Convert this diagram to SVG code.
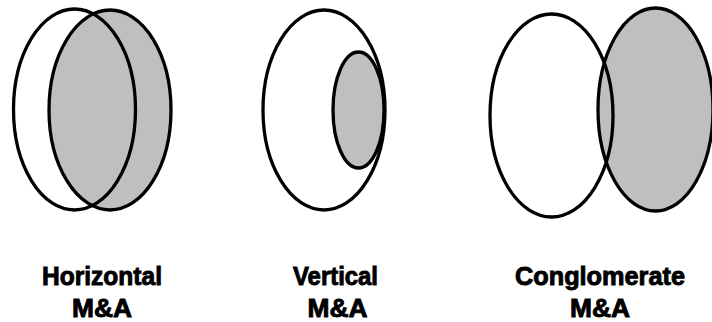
<svg xmlns="http://www.w3.org/2000/svg" width="712" height="322" viewBox="0 0 712 322">
<style>
.o{fill:none;stroke:#000;stroke-width:3.3}
.g{fill:#bfbfbf;stroke:#000;stroke-width:3.3}
.t{font-family:"Liberation Sans",Arial,sans-serif;font-weight:bold;font-size:25px;fill:#000;stroke:#000;stroke-width:0.9;text-anchor:middle}
</style>
<rect width="712" height="322" fill="#fff"/>
<g id="horizontal">
<ellipse class="g" cx="110" cy="110" rx="61" ry="100"/>
<ellipse class="o" cx="74.5" cy="109.5" rx="61" ry="100.5"/>
<text class="t" x="102" y="285" textLength="120" lengthAdjust="spacingAndGlyphs">Horizontal</text>
<text class="t" x="102" y="317" textLength="60" lengthAdjust="spacingAndGlyphs">M&amp;A</text>
</g>
<g id="vertical">
<ellipse class="o" cx="324" cy="110" rx="61" ry="100"/>
<ellipse class="g" cx="358.5" cy="110" rx="25.5" ry="58"/>
<text class="t" x="335.5" y="285" textLength="85" lengthAdjust="spacingAndGlyphs">Vertical</text>
<text class="t" x="337.5" y="317" textLength="60" lengthAdjust="spacingAndGlyphs">M&amp;A</text>
</g>
<g id="conglomerate">
<ellipse class="g" cx="655.5" cy="109.5" rx="57.5" ry="101.5"/>
<ellipse class="o" cx="551.5" cy="115.5" rx="61.5" ry="101.5"/>
<text class="t" x="600" y="285" textLength="170" lengthAdjust="spacingAndGlyphs">Conglomerate</text>
<text class="t" x="600" y="317" textLength="60" lengthAdjust="spacingAndGlyphs">M&amp;A</text>
</g>
</svg>
